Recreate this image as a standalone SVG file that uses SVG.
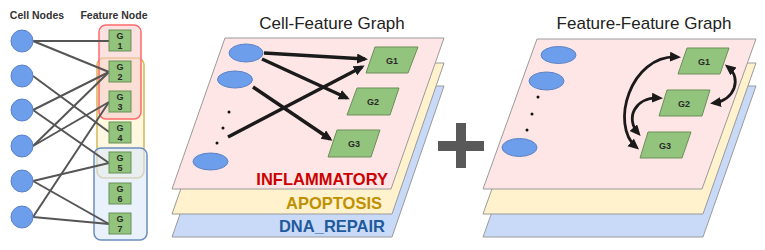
<svg xmlns="http://www.w3.org/2000/svg" width="765" height="250" viewBox="0 0 765 250">
<style>
  .hdr{font-family:"Liberation Sans",Arial,sans-serif;font-weight:bold;font-size:10.5px;fill:#333;text-anchor:middle}
  .title{font-family:"Liberation Sans",Arial,sans-serif;font-size:17px;fill:#222;text-anchor:middle}
  .cell{fill:#6d9eeb;stroke:#5b82c4;stroke-width:1}
  .feat{fill:#93c47d;stroke:#6a8f58;stroke-width:1}
  .flab{font-family:"Liberation Sans",Arial,sans-serif;font-weight:bold;font-size:9px;fill:#2a2a2a;text-anchor:middle}
  .bip{stroke:#555;stroke-width:2;fill:none}
  .arr{stroke:#1a1a1a;stroke-width:3.5;fill:none;marker-end:url(#ah)}
  .carr{stroke:#1a1a1a;stroke-width:2.8;fill:none;marker-start:url(#ah2);marker-end:url(#ah2)}
  .layer{stroke:#9a9a9a;stroke-width:1}
  .lname{font-family:"Liberation Sans",Arial,sans-serif;font-weight:bold;font-size:16.5px;text-anchor:end}
  .dot{fill:#111}
</style>
<defs>
  <marker id="ah" markerUnits="userSpaceOnUse" markerWidth="13" markerHeight="11" refX="8" refY="5" orient="auto">
    <path d="M0,0 L11,5 L0,10 z" fill="#1a1a1a"/>
  </marker>
  <marker id="ah2" markerUnits="userSpaceOnUse" markerWidth="13" markerHeight="11" refX="7" refY="5" orient="auto-start-reverse">
    <path d="M0,0 L11,5 L0,10 z" fill="#1a1a1a"/>
  </marker>
</defs>

<!-- Left panel: bipartite -->
<g id="left-headers">
  <text class="hdr" x="37" y="19">Cell Nodes</text>
  <text class="hdr" x="114" y="19">Feature Node</text>
</g>
<g id="groups">
  <rect id="grp-apoptosis" x="97" y="58" width="47" height="120" rx="7" fill="#fff2cc" fill-opacity="0.6" stroke="#d6b656" stroke-width="1.5"/>
  <rect id="grp-inflammatory" x="99" y="25" width="42" height="94" rx="7" fill="#f8cecc" fill-opacity="0.6" stroke="#ff6b6b" stroke-width="1.5"/>
  <rect id="grp-dnarepair" x="94" y="148" width="53" height="92" rx="7" fill="#dae8fc" fill-opacity="0.6" stroke="#6c8ebf" stroke-width="1.5"/>
</g>
<g id="bipartite-connectors">
  <line class="bip" x1="33" y1="41" x2="109" y2="41"/>
  <line class="bip" x1="33" y1="41" x2="109" y2="72"/>
  <line class="bip" x1="33" y1="76" x2="109" y2="132"/>
  <line class="bip" x1="33" y1="110" x2="109" y2="72"/>
  <line class="bip" x1="33" y1="110" x2="109" y2="163"/>
  <line class="bip" x1="33" y1="146" x2="109" y2="72"/>
  <line class="bip" x1="33" y1="146" x2="109" y2="102"/>
  <line class="bip" x1="33" y1="181" x2="109" y2="163"/>
  <line class="bip" x1="33" y1="181" x2="109" y2="224"/>
  <line class="bip" x1="33" y1="217" x2="109" y2="102"/>
  <line class="bip" x1="33" y1="217" x2="109" y2="224"/>
</g>
<g id="cell-nodes">
  <circle id="c1" class="cell" cx="22" cy="41" r="11"/>
  <circle id="c2" class="cell" cx="22" cy="76" r="11"/>
  <circle id="c3" class="cell" cx="22" cy="110" r="11"/>
  <circle id="c4" class="cell" cx="22" cy="146" r="11"/>
  <circle id="c5" class="cell" cx="22" cy="181" r="11"/>
  <circle id="c6" class="cell" cx="22" cy="217" r="11"/>
</g>
<g id="feature-nodes">
  <g id="f1"><rect class="feat" x="109" y="30" width="22" height="21"/><text class="flab" x="120" y="39">G</text><text class="flab" x="120" y="49">1</text></g>
  <g id="f2"><rect class="feat" x="109" y="61" width="22" height="21"/><text class="flab" x="120" y="70">G</text><text class="flab" x="120" y="80">2</text></g>
  <g id="f3"><rect class="feat" x="109" y="91" width="22" height="21"/><text class="flab" x="120" y="100">G</text><text class="flab" x="120" y="110">3</text></g>
  <g id="f4"><rect class="feat" x="109" y="122" width="22" height="21"/><text class="flab" x="120" y="131">G</text><text class="flab" x="120" y="141">4</text></g>
  <g id="f5"><rect class="feat" x="109" y="152" width="22" height="21"/><text class="flab" x="120" y="161">G</text><text class="flab" x="120" y="171">5</text></g>
  <g id="f6"><rect class="feat" x="109" y="183" width="22" height="21"/><text class="flab" x="120" y="192">G</text><text class="flab" x="120" y="202">6</text></g>
  <g id="f7"><rect class="feat" x="109" y="213" width="22" height="21"/><text class="flab" x="120" y="222">G</text><text class="flab" x="120" y="232">7</text></g>
</g>

<!-- Middle panel -->
<text class="title" x="332" y="29">Cell-Feature Graph</text>
<g id="cf-layers">
  <polygon id="cf-dna" class="layer" points="225,86 444,86 392,237 172,237" fill="#c9daf8"/>
  <polygon id="cf-apo" class="layer" points="225,63 444,63 392,214 172,214" fill="#fff2cc"/>
  <polygon id="cf-inf" class="layer" points="225,38 444,38 391,189 172,189" fill="#ffe6e6"/>
  <text class="lname" x="388" y="185" fill="#cc0000">INFLAMMATORY</text>
  <text class="lname" x="382" y="209" fill="#bf9000">APOPTOSIS</text>
  <text class="lname" x="385" y="232" fill="#1f5a9c">DNA_REPAIR</text>
</g>
<g id="cf-cells">
  <ellipse class="cell" cx="246" cy="53" rx="17" ry="9"/>
  <ellipse class="cell" cx="235" cy="79.5" rx="17.5" ry="8.5"/>
  <ellipse class="cell" cx="210.5" cy="161.5" rx="17.5" ry="8.5"/>
  <circle class="dot" cx="229" cy="112" r="1.5"/>
  <circle class="dot" cx="223" cy="128" r="1.5"/>
  <circle class="dot" cx="217" cy="143" r="1.5"/>
</g>
<g id="cf-connectors">
  <line class="arr" x1="264" y1="53" x2="365" y2="59"/>
  <line class="arr" x1="262" y1="59" x2="347" y2="98"/>
  <line class="arr" x1="253" y1="87" x2="330" y2="139"/>
  <line class="arr" x1="228" y1="137" x2="362" y2="67"/>
</g>
<g id="cf-features">
  <g id="cf-g1"><polygon class="feat" points="375,47 418,47 408,73 366,73"/><text class="flab" x="392" y="63.5">G1</text></g>
  <g id="cf-g2"><polygon class="feat" points="357,88 399,88 390,115 347,115"/><text class="flab" x="373" y="104.5">G2</text></g>
  <g id="cf-g3"><polygon class="feat" points="337,130 380,130 371,157 328,157"/><text class="flab" x="354" y="147">G3</text></g>
</g>

<!-- Plus sign -->
<g id="plus" fill="#595959">
  <rect x="438" y="141" width="46" height="10"/>
  <rect x="456" y="123" width="10" height="45"/>
</g>

<!-- Right panel -->
<text class="title" x="644" y="29">Feature-Feature Graph</text>
<g id="ff-layers">
  <polygon id="ff-dna" class="layer" points="537,86 756,86 703,237 483,237" fill="#c9daf8"/>
  <polygon id="ff-apo" class="layer" points="537,63 756,63 703,214 483,214" fill="#fff2cc"/>
  <polygon id="ff-inf" class="layer" points="537,39 756,39 702,189 483,189" fill="#ffe6e6"/>
</g>
<g id="ff-cells">
  <ellipse class="cell" cx="558.5" cy="55" rx="17.5" ry="8.5"/>
  <ellipse class="cell" cx="546.5" cy="81" rx="17.5" ry="9"/>
  <ellipse class="cell" cx="519.5" cy="147.5" rx="17.5" ry="9"/>
  <circle class="dot" cx="538" cy="97" r="1.5"/>
  <circle class="dot" cx="532" cy="114" r="1.5"/>
  <circle class="dot" cx="527" cy="130" r="1.5"/>
</g>
<g id="ff-connectors">
  <path class="carr" d="M677,57 C630,55 610,125 636,147"/>
  <path class="carr" d="M659,98 C635,97 625,118 638,133"/>
  <path class="carr" d="M728,67 C742,78 735,100 714,103"/>
</g>
<g id="ff-features">
  <g id="ff-g1"><polygon class="feat" points="687,48 729,48 720,74 678,74"/><text class="flab" x="704" y="64.5">G1</text></g>
  <g id="ff-g2"><polygon class="feat" points="667,90 710,90 702,116 659,116"/><text class="flab" x="684" y="106.5">G2</text></g>
  <g id="ff-g3"><polygon class="feat" points="648,132 691,132 682,158 640,158"/><text class="flab" x="665" y="148.5">G3</text></g>
</g>
</svg>
